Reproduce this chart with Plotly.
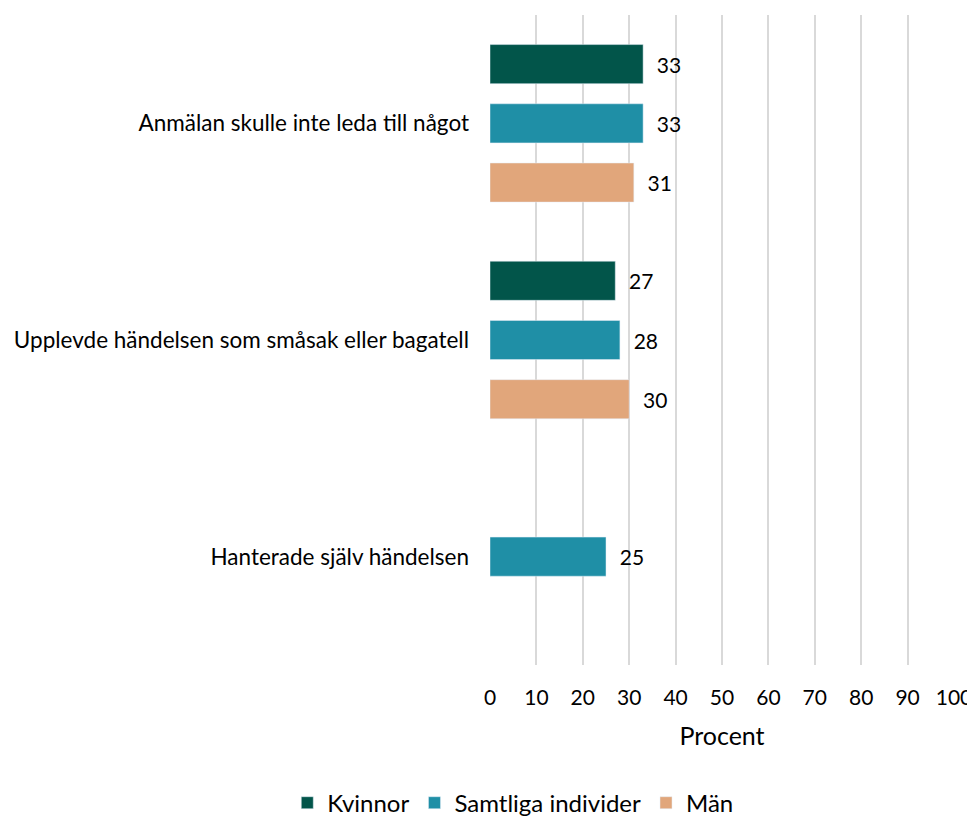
import plotly.graph_objects as go

categories = ["Anmälan skulle inte leda till något",
              "Upplevde händelsen som småsak eller bagatell",
              "Hanterade själv händelsen"]
kvinnor = [33, 27, None]
samtliga = [33, 28, 25]
man = [31, 30, None]

series = [("Kvinnor", kvinnor, "#02554A"),
          ("Samtliga individer", samtliga, "#1F8FA6"),
          ("Män", man, "#E1A67B")]

fig = go.Figure()
for name, vals, col in series:
    fig.add_trace(go.Bar(
        y=categories, x=vals, name=name, orientation="h",
        marker_color=col,
        text=[f"  {v}" if v is not None else "" for v in vals],
        textposition="outside", cliponaxis=False,
        textfont=dict(size=21, color="black"),
    ))

# page body adds an 8px offset, so the figure is sized to fit inside the window
fig.update_layout(
    barmode="group", bargap=0.18, bargroupgap=0.34,
    width=967, height=813,
    margin=dict(l=482, r=21, t=7, b=156),
    plot_bgcolor="white", paper_bgcolor="white",
    font=dict(family="Lato, Open Sans, sans-serif", size=21, color="black"),
    legend=dict(orientation="h", xref="container", x=0.522, xanchor="center",
                yref="container", y=0.022, yanchor="middle",
                font=dict(size=24), traceorder="normal"),
    xaxis=dict(range=[0, 100], dtick=10, showgrid=True, gridcolor="#d9d9d9", gridwidth=2,
               zeroline=False, ticks="", automargin=False, ticklabelstandoff=18,
               title=dict(text="Procent", standoff=19), tickfont=dict(size=21)),
    yaxis=dict(autorange="reversed", showgrid=False, ticks="", automargin=False,
               ticklabelstandoff=20, tickfont=dict(size=22.5)),
)
fig.write_html("out.html")
